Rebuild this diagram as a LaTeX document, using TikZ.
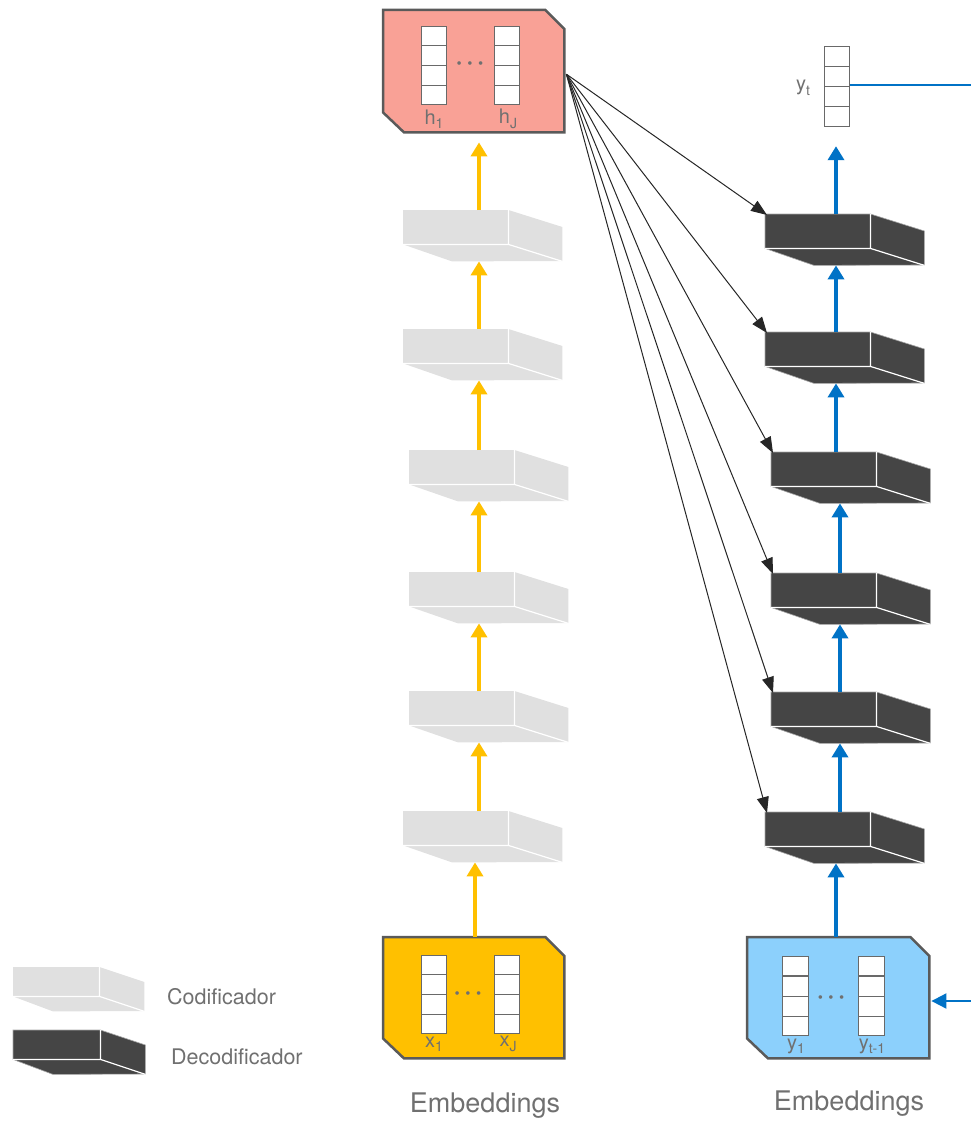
\documentclass[tikz,border=0pt]{standalone}
\usepackage{fontspec}
\setmainfont{TeX Gyre Heros}
\usetikzlibrary{calc,arrows.meta}

\definecolor{slablight}{RGB}{224,224,224}
\definecolor{slabdark}{RGB}{69,69,69}
\definecolor{hfill}{RGB}{249,161,150}
\definecolor{xfill}{RGB}{255,192,0}
\definecolor{yfill}{RGB}{140,208,252}
\definecolor{framegray}{RGB}{90,90,90}
\definecolor{encflow}{RGB}{255,192,0}
\definecolor{decflow}{RGB}{0,114,198}
\definecolor{labelgray}{RGB}{112,112,112}
\definecolor{cellgray}{RGB}{105,105,105}

% subscript-like lowered small text
\newcommand\lo[1]{\raisebox{-0.22em}{\fontsize{14}{14}\selectfont #1}}

% a flat 3D slab: name, x, y, look, width, height, depth-x, depth-y
\newcommand\slab[8]{%
  \node[slabfront, minimum width=#5pt, minimum height=#6pt, anchor=north west] (#1) at (#2,#3) {};
  \path[#4] (#1.north west) -- (#1.north east) -- ++(#7,#8) -- ++(0,#6)
     -- ($(#1.south west)+(#7-5,#8)$) -- (#1.south west) -- cycle;
  \draw[slabedge] (#1.north east) -- (#1.south east) -- (#1.south west)
     (#1.south east) -- ++(#7,#8);
  \coordinate (#1b) at ($(#1.south)+(0,#8)$);
}

% embedding/state panel with two cut corners: name, x, y, width, height, fill
\newcommand\panel[6]{%
  \node[anchor=north west, minimum width=#4pt, minimum height=#5pt, inner sep=0] (#1) at (#2,#3) {};
  \filldraw[panelframe, fill=#6] (#1.north west) -- ($(#1.north east)+(-19,0)$)
     -- ($(#1.north east)+(0,19)$) -- (#1.south east) -- ($(#1.south west)+(21,0)$)
     -- ($(#1.south west)+(0,-20)$) -- cycle;
}

% column vector of four cells: name, x, y, width, height
\newcommand\vect[5]{%
  \node[vec, minimum width=#4pt, minimum height=#5pt, anchor=north west] (#1) at (#2,#3) {};
  \foreach \k in {1,2,3}
    \draw[cellgray, line width=1.2pt]
      ($(#1.north west)!\k/4!(#1.south west)$) -- ($(#1.north east)!\k/4!(#1.south east)$);
}

\begin{document}
\begin{tikzpicture}[x=1pt,y=-1pt,
  slabfront/.style={inner sep=0, draw=none, fill=none},
  slabenc/.style={fill=slablight},
  slabdec/.style={fill=slabdark, draw=gray!70, line width=0.6pt},
  slabedge/.style={white, line width=1.2pt},
  panelframe/.style={draw=framegray, line width=2.5pt, line join=miter},
  vec/.style={draw=cellgray, fill=white, line width=1.2pt, inner sep=0},
  lbl/.style={text=labelgray, font=\fontsize{20}{20}\selectfont, inner sep=0},
  dots/.style={text=labelgray, font=\fontsize{24}{24}\selectfont\bfseries, inner sep=0},
  caption/.style={text=labelgray, font=\fontsize{27}{27}\selectfont, inner sep=0},
  legendtext/.style={text=labelgray, font=\fontsize{21.5}{22}\selectfont, inner sep=0, anchor=west},
  encarrow/.style={encflow, line width=3.5pt, -{Triangle[width=16pt,length=14pt]}},
  decarrow/.style={decflow, line width=4pt, -{Triangle[width=16pt,length=14pt]}},
  fbarrow/.style={decflow, line width=2pt, -{Triangle[width=15pt,length=15pt]}},
  outline/.style={color=decflow, line width=2pt},
  attn/.style={black!85, line width=1pt, -{Triangle[width=12pt,length=16pt]}}]

\useasboundingbox (0,0) rectangle (970,1126);

% ---- encoder column ----
\slab{e1}{403}{210}{slabenc}{105}{34}{54}{17}
\slab{e2}{403}{329}{slabenc}{105}{34}{54}{17}
\slab{e3}{409}{450}{slabenc}{105}{34}{54}{17}
\slab{e4}{409}{572}{slabenc}{105}{34}{54}{17}
\slab{e5}{409}{691}{slabenc}{105}{34}{54}{17}
\slab{e6}{403}{811}{slabenc}{105}{34}{54}{17}

% ---- decoder column ----
\slab{d1}{765}{214}{slabdec}{105}{34}{54}{17}
\slab{d2}{765}{332}{slabdec}{105}{34}{54}{17}
\slab{d3}{771}{452}{slabdec}{105}{34}{54}{17}
\slab{d4}{771}{573}{slabdec}{105}{34}{54}{17}
\slab{d5}{771}{692}{slabdec}{105}{34}{54}{17}
\slab{d6}{765}{812}{slabdec}{105}{34}{54}{17}

% ---- encoder states ----
\panel{hbox}{383}{10}{181}{122}{hfill}
\vect{h1v}{421}{26}{25}{78}
\vect{hJv}{494}{26}{25}{78}
\node[dots] (hdots) at (470,66) {·\hspace{4pt}·\hspace{4pt}·};
\node[lbl] (h1l) at (434,119) {h\lo{1}};
\node[lbl] (hJl) at (508,119) {h\lo{J}};

% ---- source embeddings ----
\panel{xbox}{383}{937}{181}{121}{xfill}
\vect{x1v}{421}{955}{25}{78}
\vect{xJv}{494}{955}{25}{78}
\node[dots] (xdots) at (468,996) {·\hspace{4pt}·\hspace{4pt}·};
\node[lbl] (x1l) at (434,1044) {x\lo{1}};
\node[lbl] (xJl) at (508,1044) {x\lo{J}};

% ---- target embeddings ----
\panel{ybox}{747}{937}{182}{121}{yfill}
\vect{y1v}{782}{956}{26}{79}
\vect{ypv}{858}{956}{26}{79}
\node[dots] (ydots) at (831,1000) {·\hspace{4pt}·\hspace{4pt}·};
\node[lbl] (y1l) at (796,1046) {y\lo{1}};
\node[lbl] (ypl) at (872,1046) {y\lo{t-1}};

% ---- output vector ----
\vect{ytv}{824}{46}{25}{80}
\node[lbl] (ytl) at (803,88) {y\lo{t}};

% ---- captions ----
\node[caption] (xcap) at (485,1106) {Embeddings};
\node[caption] (ycap) at (849,1104) {Embeddings};

% ---- legend ----
\slab{lenc}{13}{967}{slabenc}{86}{29}{45}{15}
\slab{ldec}{13}{1030}{slabdec}{87}{29}{45}{15}
\node[legendtext] (lenct) at (167,997) {Codificador};
\node[legendtext] (ldect) at (171,1057) {Decodificador};

% ---- encoder flow ----
\coordinate (ecol0) at (475,0);
\coordinate (ecol) at (479,0);
\draw[encarrow] (xbox.north -| ecol0) -- (e6b -| ecol0);
\draw[encarrow] (e6.north -| ecol) -- (e5b -| ecol);
\draw[encarrow] (e5.north -| ecol) -- (e4b -| ecol);
\draw[encarrow] (e4.north -| ecol) -- (e3b -| ecol);
\draw[encarrow] (e3.north -| ecol) -- (e2b -| ecol);
\draw[encarrow] (e2.north -| ecol) -- (e1b -| ecol);
\draw[encarrow] (e1.north -| ecol) -- ($(hbox.south -| ecol)+(0,10)$);

% ---- decoder flow ----
\coordinate (dcol) at (836,0);
\coordinate (dcolb) at (840,0);
\draw[decarrow] (ybox.north -| dcol) -- (d6b -| dcol);
\draw[decarrow] (d6.north -| dcolb) -- (d5b -| dcolb);
\draw[decarrow] (d5.north -| dcolb) -- (d4b -| dcolb);
\draw[decarrow] (d4.north -| dcolb) -- (d3b -| dcolb);
\draw[decarrow] (d3.north -| dcol) -- (d2b -| dcol);
\draw[decarrow] (d2.north -| dcol) -- (d1b -| dcol);
\draw[decarrow] (d1.north -| dcol) -- ($(ytv.south -| dcol)+(0,19)$);

% ---- attention connections ----
\coordinate (hout) at ($(hbox.east)+(2,3)$);
\foreach \d in {d1,d2,d3,d4,d5,d6}
  \draw[attn] (hout) -- ($(\d.north west)+(2,1)$);

% ---- output line and feedback ----
\coordinate (outend) at (972,85);
\draw[outline] (ytv.east |- outend) -- (outend);
\coordinate (fbin) at (972,1001);
\draw[fbarrow] (fbin) -- ($(ybox.east |- fbin)+(2,0)$);

\end{tikzpicture}
\end{document}
